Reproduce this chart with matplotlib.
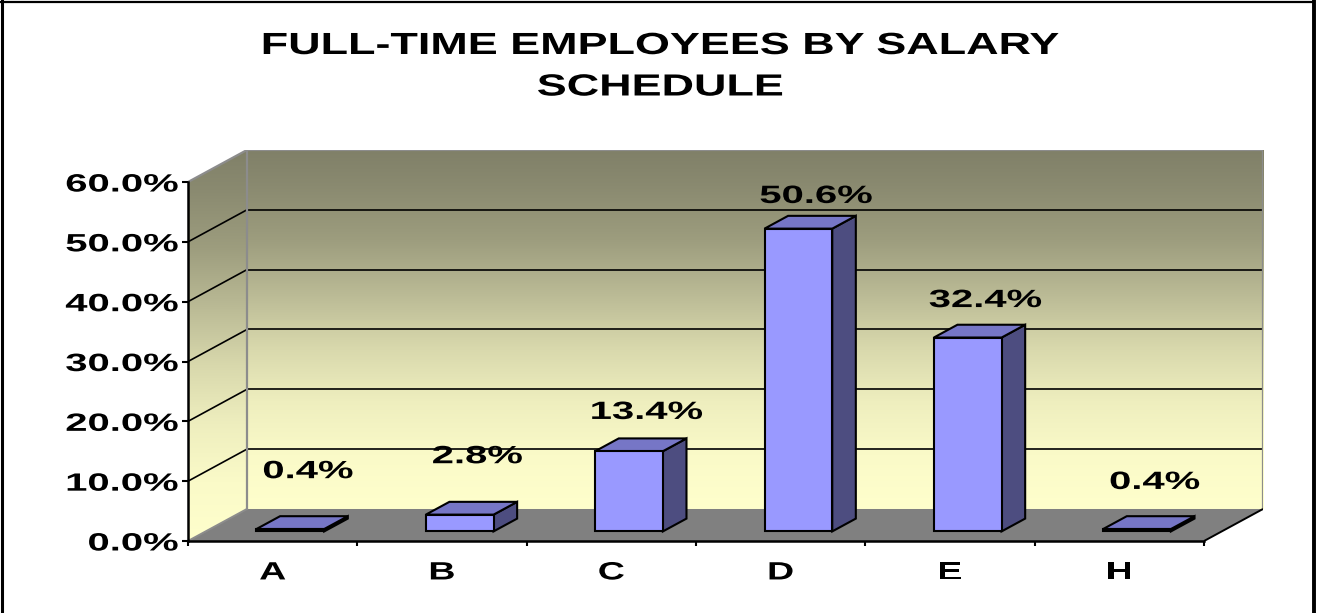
import numpy as np
import matplotlib
matplotlib.use("Agg")
import matplotlib.pyplot as plt
from matplotlib.patches import Polygon
from matplotlib.lines import Line2D
from matplotlib.colors import LinearSegmentedColormap
from matplotlib.patheffects import AbstractPathEffect
from matplotlib.transforms import Affine2D

# ---------------- data ----------------
categories = ["A", "B", "C", "D", "E", "H"]
values = [0.4, 2.8, 13.4, 50.6, 32.4, 0.4]
value_labels = ["0.4%", "2.8%", "13.4%", "50.6%", "32.4%", "0.4%"]
yticks = [0, 10, 20, 30, 40, 50, 60]
ytick_labels = ["0.0%", "10.0%", "20.0%", "30.0%", "40.0%", "50.0%", "60.0%"]
title = "FULL-TIME EMPLOYEES BY SALARY\nSCHEDULE"

# ---------------- layout / style ----------------
label_lift = [10.1, 10.2, 7.0, 5.9, 6.7, 8.3]   # label baseline above bar top (axis units)
DX = 0.348     # depth offset in category units
DY = 5.35      # depth offset in value units
BAR_W = 0.4
T0, T1 = 0.3, 0.7
FRONT = "#9999FF"
TOP = "#7676C6"
SIDE = "#4D4D80"
FLOOR = "#808080"
EDGE_GRAY = "#8C8C8C"
wall_cmap = LinearSegmentedColormap.from_list(
    "wall",
    [(0.0, "#FFFFCC"), (0.15, "#FAFAC8"), (0.30, "#EEEEBE"), (0.45, "#D8D8AC"),
     (0.60, "#BABA95"), (0.75, "#9D9D7E"), (0.90, "#8A8A70"), (1.0, "#808068")])

plt.rcParams["font.family"] = ["Liberation Sans", "DejaVu Sans"]
plt.rcParams["font.weight"] = "bold"


class HStretch(AbstractPathEffect):
    """Stretch glyphs horizontally (the reference image is widened)."""
    def __init__(self, sx, anchor="center"):
        super().__init__((0, 0))
        self.sx = sx
        self.anchor = anchor

    def draw_path(self, renderer, gc, tpath, affine, rgbFace=None):
        bb = tpath.get_extents(affine)
        if self.anchor == "right":
            cx = bb.x1
        elif self.anchor == "left":
            cx = bb.x0
        else:
            cx = 0.5 * (bb.x0 + bb.x1)
        aff = affine + Affine2D().translate(-cx, 0).scale(self.sx, 1).translate(cx, 0)
        renderer.draw_path(gc, tpath, aff, rgbFace)


W, H = 1317, 613
fig = plt.figure(figsize=(W / 100, H / 100), dpi=100)
fig.patch.set_facecolor("white")

n = len(categories)
ymax = yticks[-1]
ax = fig.add_axes([188 / W, (H - 541) / H, (1263 - 188) / W, (541 - 150) / H])
ax.set_xlim(0, n + DX)
ax.set_ylim(0, ymax + DY)
ax.patch.set_visible(False)


def P(x, y, t):
    return (x + t * DX, y + t * DY)


# gradient walls
grad = np.linspace(0, 1, 256).reshape(-1, 1)
back = ax.imshow(grad, cmap=wall_cmap, origin="lower", aspect="auto",
                 extent=[DX, n + DX, DY, ymax + DY], zorder=0, interpolation="bilinear")
side_poly = Polygon([P(0, 0, 0), P(0, 0, 1), P(0, ymax, 1), P(0, ymax, 0)],
                    closed=True, facecolor="none", edgecolor="none")
ax.add_patch(side_poly)
side = ax.imshow(grad, cmap=wall_cmap, origin="lower", aspect="auto",
                 extent=[0, DX, 0, ymax + DY], zorder=0, interpolation="bilinear")
side.set_clip_path(side_poly)

# floor
ax.add_patch(Polygon([P(0, 0, 0), P(n, 0, 0), P(n, 0, 1), P(0, 0, 1)], closed=True,
                     facecolor=FLOOR, edgecolor="none", zorder=1))
ax.plot(*zip(P(n, 0, 0), P(n, 0, 1)), color="black", lw=1.4, zorder=1.5,
        solid_capstyle="butt")
ax.plot(*zip(P(0, 0, 0), P(0, 0, 1)), color=EDGE_GRAY, lw=1.4, zorder=1.5)

# gridlines (back wall + side wall)
for v in yticks[1:-1]:
    ax.plot(*zip(P(0, v, 1), P(n, v, 1)), color="black", lw=1.2, zorder=1)
    ax.plot(*zip(P(0, v, 0), P(0, v, 1)), color="black", lw=1.2, zorder=1)

# wall outlines
ax.plot(*zip(P(0, 0, 1), P(0, ymax, 1), P(n, ymax, 1), P(n, 0, 1)),
        color=EDGE_GRAY, lw=1.6, zorder=1.2)
ax.plot(*zip(P(0, ymax, 0), P(0, ymax, 1)), color=EDGE_GRAY, lw=1.6, zorder=1.2)

# 3-D bars
for i, v in enumerate(values):
    x0 = i + 0.5 - BAR_W / 2
    x1 = i + 0.5 + BAR_W / 2
    kw = dict(closed=True, edgecolor="black", lw=1.5, joinstyle="miter", zorder=3 + i * 0.01)
    ax.add_patch(Polygon([P(x1, 0, T0), P(x1, 0, T1), P(x1, v, T1), P(x1, v, T0)],
                         facecolor=SIDE, **kw))
    ax.add_patch(Polygon([P(x0, v, T0), P(x1, v, T0), P(x1, v, T1), P(x0, v, T1)],
                         facecolor=TOP, **kw))
    ax.add_patch(Polygon([P(x0, 0, T0), P(x1, 0, T0), P(x1, v, T0), P(x0, v, T0)],
                         facecolor=FRONT, **kw))
    lx, ly = P(i + 0.5, v + label_lift[i], 0.6)
    ax.text(lx, v + label_lift[i], value_labels[i], ha="center", va="baseline",
            fontsize=18, fontweight="bold", zorder=6,
            path_effects=[HStretch(1.6, "center")])

# axes spines / ticks
for s in ("top", "right"):
    ax.spines[s].set_visible(False)
ax.spines["left"].set_bounds(0, ymax)
ax.spines["bottom"].set_bounds(0, n)
ax.spines["left"].set_linewidth(1.8)
ax.spines["bottom"].set_linewidth(1.8)
ax.spines["left"].set_zorder(4)
ax.spines["bottom"].set_zorder(4)

ax.set_yticks(yticks, labels=ytick_labels)
ax.tick_params(axis="y", direction="out", length=4.5, width=1.5, pad=2.5,
               labelsize=18)
ax.set_xticks(np.arange(n + 1))
ax.set_xticks(np.arange(n) + 0.5, labels=categories, minor=True)
ax.tick_params(axis="x", which="major", direction="out", length=3.5, width=1.5,
               labelbottom=False)
ax.tick_params(axis="x", which="minor", length=0, pad=14, labelsize=18)
for lbl in ax.get_yticklabels():
    lbl.set_fontweight("bold")
    lbl.set_path_effects([HStretch(1.6, "right")])
for lbl in ax.get_xticklabels(minor=True):
    lbl.set_fontweight("bold")
    lbl.set_path_effects([HStretch(1.5, "center")])

# title
fig.text(660 / W, 1 - 31 / H, title, ha="center", va="top", fontsize=22,
         fontweight="bold", linespacing=1.5, path_effects=[HStretch(1.47, "center")])

# chart frame
fig.add_artist(Line2D([2 / W, 2 / W], [0, 1 - 1 / H], color="black", lw=2.2,
                      transform=fig.transFigure))
fig.add_artist(Line2D([1 / W, 1 - 3 / W], [1 - 1.5 / H, 1 - 1.5 / H], color="black",
                      lw=1.6, transform=fig.transFigure))
fig.add_artist(Line2D([1 - 3 / W, 1 - 3 / W], [0, 1 - 1 / H], color="black", lw=2.8,
                      transform=fig.transFigure))

fig.savefig("out.png", dpi=100)
